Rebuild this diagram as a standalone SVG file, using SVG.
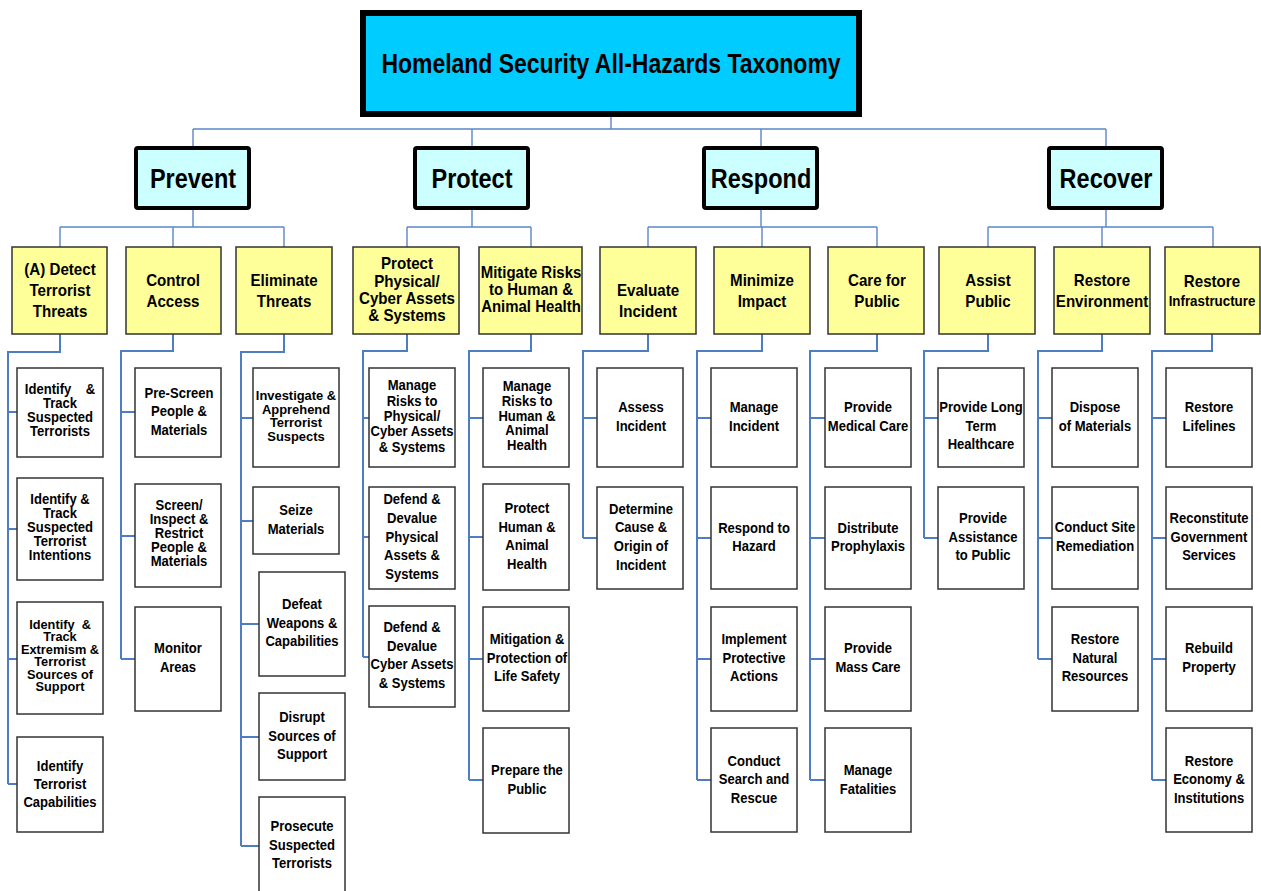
<svg xmlns="http://www.w3.org/2000/svg" width="1261" height="891" viewBox="0 0 1261 891">
<style>
.c1{fill:none;stroke:#5B86C9;stroke-width:1.4}
.c2{fill:none;stroke:#4E7DC2;stroke-width:2}
.title{fill:#00CCFF;stroke:#000;stroke-width:6}
.l1{fill:#CCFFFF;stroke:#000;stroke-width:4}
.l2{fill:#FFFF99;stroke:#333;stroke-width:1.5}
.l3{fill:#FFFFFF;stroke:#333;stroke-width:1.5}
text{font-family:"Liberation Sans",Arial,sans-serif;font-weight:bold;fill:#000;text-anchor:middle}
.t0{font-size:28px}
.t1{font-size:28px}
.t2{font-size:17px}
.t3{font-size:14.5px}
.t3s{font-size:12.4px}
.t3m{font-size:13.2px}
</style>
<rect width="1261" height="891" fill="#fff"/>
<g id="connectors">
<path class="c1" d="M611,117V129M193,129H1106M193,129V146M472,129V146M761,129V146M1106,129V146"/>
<path class="c1" d="M193,210V227M60,227H284M60,227V247M173,227V247M284,227V247"/>
<path class="c1" d="M472,210V227M407,227H531M407,227V247M531,227V247"/>
<path class="c1" d="M761,210V227M648,227H877M648,227V247M762,227V247M877,227V247"/>
<path class="c1" d="M1106,210V227M988,227H1213M988,227V247M1102,227V247M1213,227V247"/>
<path class="c2" d="M60,334V352H8V784M8,412H17M8,529H17M8,659H17M8,784H17"/>
<path class="c2" d="M173,334V351H121V659M121,412H135M121,536H135M121,659H135"/>
<path class="c2" d="M284,334V352H241V846M241,418H253M241,521H253M241,624H259M241,737H259M241,846H259"/>
<path class="c2" d="M407,334V351H363V657M363,418H369M363,537H369M363,657H369"/>
<path class="c2" d="M531,334V351H469V780M469,418H483M469,537H483M469,659H483M469,780H483"/>
<path class="c2" d="M648,334V351H583V538M583,418H597M583,538H597"/>
<path class="c2" d="M762,334V351H697V780M697,418H711M697,538H711M697,659H711M697,780H711"/>
<path class="c2" d="M877,334V351H810V780M810,418H825M810,538H825M810,659H825M810,780H825"/>
<path class="c2" d="M988,334V351H924V538M924,418H938M924,538H938"/>
<path class="c2" d="M1102,334V351H1038V659M1038,418H1052M1038,538H1052M1038,659H1052"/>
<path class="c2" d="M1212,334V351H1152V780M1152,418H1166M1152,538H1166M1152,659H1166M1152,780H1166"/>
</g>

<g id="title"><rect class="title" x="363" y="13" width="496" height="101"/>
<text class="t0" transform="translate(611 0) scale(.82 1)"><tspan x="0" y="73">Homeland Security All-Hazards Taxonomy</tspan></text></g>

<g id="prevent"><rect class="l1" x="136" y="148" width="113" height="60" rx="2"/>
<text class="t1" transform="translate(193 0) scale(.84 1)"><tspan x="0" y="188">Prevent</tspan></text></g>
<g id="protect"><rect class="l1" x="415" y="148" width="113" height="60" rx="2"/>
<text class="t1" transform="translate(472 0) scale(.84 1)"><tspan x="0" y="188">Protect</tspan></text></g>
<g id="respond"><rect class="l1" x="704" y="148" width="113" height="60" rx="2"/>
<text class="t1" transform="translate(761 0) scale(.84 1)"><tspan x="0" y="188">Respond</tspan></text></g>
<g id="recover"><rect class="l1" x="1049" y="148" width="113" height="60" rx="2"/>
<text class="t1" transform="translate(1106 0) scale(.84 1)"><tspan x="0" y="188">Recover</tspan></text></g>

<g id="detect"><rect class="l2" x="12" y="247" width="95" height="87"/>
<text class="t2" transform="translate(60 0) scale(.89 1)"><tspan x="0" y="275">(A) Detect</tspan><tspan x="0" y="296">Terrorist</tspan><tspan x="0" y="317">Threats</tspan></text></g>
<g id="control"><rect class="l2" x="126" y="247" width="95" height="87"/>
<text class="t2" transform="translate(173 0) scale(.89 1)"><tspan x="0" y="286">Control</tspan><tspan x="0" y="307">Access</tspan></text></g>
<g id="eliminate"><rect class="l2" x="236" y="247" width="96" height="87"/>
<text class="t2" transform="translate(284 0) scale(.89 1)"><tspan x="0" y="286">Eliminate</tspan><tspan x="0" y="307">Threats</tspan></text></g>
<g id="protectphys"><rect class="l2" x="353" y="247" width="106" height="87"/>
<text class="t2" transform="translate(407 0) scale(.89 1)"><tspan x="0" y="269">Protect</tspan><tspan x="0" y="287">Physical/</tspan><tspan x="0" y="304">Cyber Assets</tspan><tspan x="0" y="321">&amp; Systems</tspan></text></g>
<g id="mitigate"><rect class="l2" x="479" y="247" width="103" height="87"/>
<text class="t2" transform="translate(531 0) scale(.88 1)"><tspan x="0" y="278">Mitigate Risks</tspan><tspan x="0" y="295">to Human &amp;</tspan><tspan x="0" y="312">Animal Health</tspan></text></g>
<g id="evaluate"><rect class="l2" x="600" y="247" width="96" height="87"/>
<text class="t2" transform="translate(648 0) scale(.89 1)"><tspan x="0" y="296">Evaluate</tspan><tspan x="0" y="317">Incident</tspan></text></g>
<g id="minimize"><rect class="l2" x="714" y="247" width="96" height="87"/>
<text class="t2" transform="translate(762 0) scale(.89 1)"><tspan x="0" y="286">Minimize</tspan><tspan x="0" y="307">Impact</tspan></text></g>
<g id="care"><rect class="l2" x="828" y="247" width="96" height="87"/>
<text class="t2" transform="translate(877 0) scale(.89 1)"><tspan x="0" y="286">Care for</tspan><tspan x="0" y="307">Public</tspan></text></g>
<g id="assist"><rect class="l2" x="939" y="247" width="96" height="87"/>
<text class="t2" transform="translate(988 0) scale(.89 1)"><tspan x="0" y="286">Assist</tspan><tspan x="0" y="307">Public</tspan></text></g>
<g id="restenv"><rect class="l2" x="1054" y="247" width="96" height="87"/>
<text class="t2" transform="translate(1102 0) scale(.89 1)"><tspan x="0" y="286">Restore</tspan><tspan x="0" y="307">Environment</tspan></text></g>
<g id="restinfra"><rect class="l2" x="1165" y="247" width="95" height="87"/>
<text class="t2" transform="translate(1212 0) scale(.89 1)"><tspan x="0" y="287">Restore</tspan><tspan x="0" y="306" style="font-size:15px">Infrastructure</tspan></text></g>

<g id="d1"><rect class="l3" x="17" y="368" width="86" height="89"/>
<text class="t3" transform="translate(60 0) scale(.9 1)"><tspan x="0" y="394" style="white-space:pre">Identify    &amp;</tspan><tspan x="0" y="408">Track</tspan><tspan x="0" y="422">Suspected</tspan><tspan x="0" y="436">Terrorists</tspan></text></g>
<g id="d2"><rect class="l3" x="17" y="478" width="86" height="102"/>
<text class="t3" transform="translate(60 0) scale(.9 1)"><tspan x="0" y="504">Identify &amp;</tspan><tspan x="0" y="518">Track</tspan><tspan x="0" y="532">Suspected</tspan><tspan x="0" y="546">Terrorist</tspan><tspan x="0" y="560">Intentions</tspan></text></g>
<g id="d3"><rect class="l3" x="17" y="602" width="86" height="112"/>
<text class="t3s" transform="translate(60 0) scale(1.03 1)"><tspan x="0" y="629" style="white-space:pre">Identify  &amp;</tspan><tspan x="0" y="641.5">Track</tspan><tspan x="0" y="654">Extremism  &amp;</tspan><tspan x="0" y="666.5">Terrorist</tspan><tspan x="0" y="679">Sources of</tspan><tspan x="0" y="691.5">Support</tspan></text></g>
<g id="d4"><rect class="l3" x="17" y="737" width="86" height="95"/>
<text class="t3" transform="translate(60 0) scale(.9 1)"><tspan x="0" y="771">Identify</tspan><tspan x="0" y="789">Terrorist</tspan><tspan x="0" y="807">Capabilities</tspan></text></g>

<g id="c1"><rect class="l3" x="135" y="368" width="86" height="89"/>
<text class="t3" transform="translate(179 0) scale(.9 1)"><tspan x="0" y="398">Pre-Screen</tspan><tspan x="0" y="416">People &amp;</tspan><tspan x="0" y="435">Materials</tspan></text></g>
<g id="c2"><rect class="l3" x="135" y="484" width="86" height="103"/>
<text class="t3" transform="translate(179 0) scale(.9 1)"><tspan x="0" y="510">Screen/</tspan><tspan x="0" y="524">Inspect &amp;</tspan><tspan x="0" y="538">Restrict</tspan><tspan x="0" y="552">People &amp;</tspan><tspan x="0" y="566">Materials</tspan></text></g>
<g id="c3"><rect class="l3" x="135" y="607" width="86" height="104"/>
<text class="t3" transform="translate(178 0) scale(.9 1)"><tspan x="0" y="653">Monitor</tspan><tspan x="0" y="672">Areas</tspan></text></g>

<g id="e1"><rect class="l3" x="253" y="368" width="86" height="99"/>
<text class="t3m" transform="translate(296 0) scale(.98 1)"><tspan x="0" y="400">Investigate &amp;</tspan><tspan x="0" y="413.7">Apprehend</tspan><tspan x="0" y="427.4">Terrorist</tspan><tspan x="0" y="441">Suspects</tspan></text></g>
<g id="e2"><rect class="l3" x="253" y="487" width="86" height="67"/>
<text class="t3" transform="translate(296 0) scale(.9 1)"><tspan x="0" y="515">Seize</tspan><tspan x="0" y="534">Materials</tspan></text></g>
<g id="e3"><rect class="l3" x="259" y="572" width="86" height="104"/>
<text class="t3" transform="translate(302 0) scale(.9 1)"><tspan x="0" y="609">Defeat</tspan><tspan x="0" y="628">Weapons &amp;</tspan><tspan x="0" y="646">Capabilities</tspan></text></g>
<g id="e4"><rect class="l3" x="259" y="693" width="86" height="87"/>
<text class="t3" transform="translate(302 0) scale(.9 1)"><tspan x="0" y="722">Disrupt</tspan><tspan x="0" y="741">Sources of</tspan><tspan x="0" y="759">Support</tspan></text></g>
<g id="e5"><rect class="l3" x="259" y="797" width="86" height="100"/>
<text class="t3" transform="translate(302 0) scale(.9 1)"><tspan x="0" y="831">Prosecute</tspan><tspan x="0" y="850">Suspected</tspan><tspan x="0" y="868">Terrorists</tspan></text></g>

<g id="p1"><rect class="l3" x="369" y="368" width="86" height="99"/>
<text class="t3" transform="translate(412 0) scale(.9 1)"><tspan x="0" y="390">Manage</tspan><tspan x="0" y="406">Risks to</tspan><tspan x="0" y="421">Physical/</tspan><tspan x="0" y="436">Cyber Assets</tspan><tspan x="0" y="452">&amp; Systems</tspan></text></g>
<g id="p2"><rect class="l3" x="369" y="487" width="86" height="102"/>
<text class="t3" transform="translate(412 0) scale(.9 1)"><tspan x="0" y="504">Defend &amp;</tspan><tspan x="0" y="523">Devalue</tspan><tspan x="0" y="542">Physical</tspan><tspan x="0" y="560">Assets &amp;</tspan><tspan x="0" y="579">Systems</tspan></text></g>
<g id="p3"><rect class="l3" x="369" y="606" width="86" height="101"/>
<text class="t3" transform="translate(412 0) scale(.9 1)"><tspan x="0" y="632">Defend &amp;</tspan><tspan x="0" y="651">Devalue</tspan><tspan x="0" y="669">Cyber Assets</tspan><tspan x="0" y="688">&amp; Systems</tspan></text></g>

<g id="m1"><rect class="l3" x="483" y="368" width="86" height="99"/>
<text class="t3" transform="translate(527 0) scale(.9 1)"><tspan x="0" y="391">Manage</tspan><tspan x="0" y="406">Risks to</tspan><tspan x="0" y="421">Human &amp;</tspan><tspan x="0" y="435">Animal</tspan><tspan x="0" y="450">Health</tspan></text></g>
<g id="m2"><rect class="l3" x="483" y="484" width="86" height="106"/>
<text class="t3" transform="translate(527 0) scale(.9 1)"><tspan x="0" y="513">Protect</tspan><tspan x="0" y="532">Human &amp;</tspan><tspan x="0" y="550">Animal</tspan><tspan x="0" y="569">Health</tspan></text></g>
<g id="m3"><rect class="l3" x="483" y="607" width="86" height="104"/>
<text class="t3" transform="translate(527 0) scale(.9 1)"><tspan x="0" y="644">Mitigation &amp;</tspan><tspan x="0" y="663">Protection of</tspan><tspan x="0" y="681">Life Safety</tspan></text></g>
<g id="m4"><rect class="l3" x="483" y="728" width="86" height="105"/>
<text class="t3" transform="translate(527 0) scale(.9 1)"><tspan x="0" y="775">Prepare the</tspan><tspan x="0" y="794">Public</tspan></text></g>

<g id="v1"><rect class="l3" x="597" y="368" width="86" height="99"/>
<text class="t3" transform="translate(641 0) scale(.9 1)"><tspan x="0" y="412">Assess</tspan><tspan x="0" y="431">Incident</tspan></text></g>
<g id="v2"><rect class="l3" x="597" y="487" width="86" height="102"/>
<text class="t3" transform="translate(641 0) scale(.9 1)"><tspan x="0" y="514">Determine</tspan><tspan x="0" y="532">Cause &amp;</tspan><tspan x="0" y="551">Origin of</tspan><tspan x="0" y="570">Incident</tspan></text></g>

<g id="n1"><rect class="l3" x="711" y="368" width="86" height="99"/>
<text class="t3" transform="translate(754 0) scale(.9 1)"><tspan x="0" y="412">Manage</tspan><tspan x="0" y="431">Incident</tspan></text></g>
<g id="n2"><rect class="l3" x="711" y="487" width="86" height="102"/>
<text class="t3" transform="translate(754 0) scale(.9 1)"><tspan x="0" y="533">Respond to</tspan><tspan x="0" y="551">Hazard</tspan></text></g>
<g id="n3"><rect class="l3" x="711" y="607" width="86" height="104"/>
<text class="t3" transform="translate(754 0) scale(.9 1)"><tspan x="0" y="644">Implement</tspan><tspan x="0" y="663">Protective</tspan><tspan x="0" y="681">Actions</tspan></text></g>
<g id="n4"><rect class="l3" x="711" y="728" width="86" height="104"/>
<text class="t3" transform="translate(754 0) scale(.9 1)"><tspan x="0" y="766">Conduct</tspan><tspan x="0" y="784">Search and</tspan><tspan x="0" y="803">Rescue</tspan></text></g>

<g id="r1"><rect class="l3" x="825" y="368" width="86" height="99"/>
<text class="t3" transform="translate(868 0) scale(.9 1)"><tspan x="0" y="412">Provide</tspan><tspan x="0" y="431">Medical Care</tspan></text></g>
<g id="r2"><rect class="l3" x="825" y="487" width="86" height="102"/>
<text class="t3" transform="translate(868 0) scale(.9 1)"><tspan x="0" y="533">Distribute</tspan><tspan x="0" y="551">Prophylaxis</tspan></text></g>
<g id="r3"><rect class="l3" x="825" y="607" width="86" height="104"/>
<text class="t3" transform="translate(868 0) scale(.9 1)"><tspan x="0" y="653">Provide</tspan><tspan x="0" y="672">Mass Care</tspan></text></g>
<g id="r4"><rect class="l3" x="825" y="728" width="86" height="104"/>
<text class="t3" transform="translate(868 0) scale(.9 1)"><tspan x="0" y="775">Manage</tspan><tspan x="0" y="794">Fatalities</tspan></text></g>

<g id="a1"><rect class="l3" x="938" y="368" width="86" height="99"/>
<text class="t3" transform="translate(981 0) scale(.9 1)"><tspan x="0" y="412">Provide Long</tspan><tspan x="0" y="431">Term</tspan><tspan x="0" y="449">Healthcare</tspan></text></g>
<g id="a2"><rect class="l3" x="938" y="487" width="86" height="102"/>
<text class="t3" transform="translate(983 0) scale(.9 1)"><tspan x="0" y="523">Provide</tspan><tspan x="0" y="542">Assistance</tspan><tspan x="0" y="560">to Public</tspan></text></g>

<g id="s1"><rect class="l3" x="1052" y="368" width="86" height="99"/>
<text class="t3" transform="translate(1095 0) scale(.9 1)"><tspan x="0" y="412">Dispose</tspan><tspan x="0" y="431">of Materials</tspan></text></g>
<g id="s2"><rect class="l3" x="1052" y="487" width="86" height="102"/>
<text class="t3" transform="translate(1095 0) scale(.9 1)"><tspan x="0" y="532">Conduct Site</tspan><tspan x="0" y="551">Remediation</tspan></text></g>
<g id="s3"><rect class="l3" x="1052" y="607" width="86" height="104"/>
<text class="t3" transform="translate(1095 0) scale(.9 1)"><tspan x="0" y="644">Restore</tspan><tspan x="0" y="663">Natural</tspan><tspan x="0" y="681">Resources</tspan></text></g>

<g id="i1"><rect class="l3" x="1166" y="368" width="86" height="99"/>
<text class="t3" transform="translate(1209 0) scale(.9 1)"><tspan x="0" y="412">Restore</tspan><tspan x="0" y="431">Lifelines</tspan></text></g>
<g id="i2"><rect class="l3" x="1166" y="487" width="86" height="102"/>
<text class="t3" transform="translate(1209 0) scale(.9 1)"><tspan x="0" y="523">Reconstitute</tspan><tspan x="0" y="542">Government</tspan><tspan x="0" y="560">Services</tspan></text></g>
<g id="i3"><rect class="l3" x="1166" y="607" width="86" height="104"/>
<text class="t3" transform="translate(1209 0) scale(.9 1)"><tspan x="0" y="653">Rebuild</tspan><tspan x="0" y="672">Property</tspan></text></g>
<g id="i4"><rect class="l3" x="1166" y="728" width="86" height="104"/>
<text class="t3" transform="translate(1209 0) scale(.9 1)"><tspan x="0" y="766">Restore</tspan><tspan x="0" y="784">Economy &amp;</tspan><tspan x="0" y="803">Institutions</tspan></text></g>
</svg>
